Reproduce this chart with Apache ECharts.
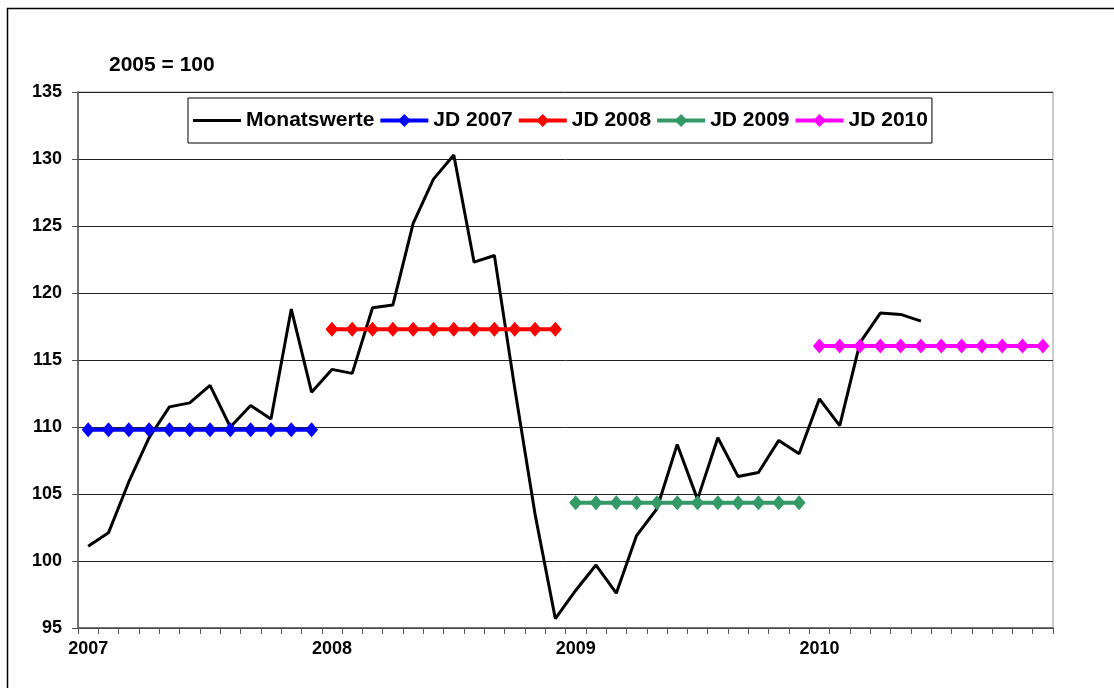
<!DOCTYPE html>
<html>
<head>
<meta charset="utf-8">
<script src="https://cdn.jsdelivr.net/npm/echarts@6/dist/echarts.min.js"></script>
<style>
html,body{margin:0;padding:0;background:#fff;}
#chart{width:1114px;height:688px;}
</style>
</head>
<body>
<div id="chart"></div>
<script>
// Categories: months Jan 2007 .. Dec 2010
var months = [
 '01.2007','02.2007','03.2007','04.2007','05.2007','06.2007','07.2007','08.2007','09.2007','10.2007','11.2007','12.2007',
 '01.2008','02.2008','03.2008','04.2008','05.2008','06.2008','07.2008','08.2008','09.2008','10.2008','11.2008','12.2008',
 '01.2009','02.2009','03.2009','04.2009','05.2009','06.2009','07.2009','08.2009','09.2009','10.2009','11.2009','12.2009',
 '01.2010','02.2010','03.2010','04.2010','05.2010','06.2010','07.2010','08.2010','09.2010','10.2010','11.2010','12.2010'
];
var yearLabels = ['2007','2008','2009','2010'];
var yTicks = [95,100,105,110,115,120,125,130,135];

// Monthly index values (2005 = 100)
var monatswerte = [
 101.1, 102.1, 105.9, 109.2, 111.5, 111.8, 113.1, 110.0, 111.6, 110.6, 118.8, 112.6,
 114.3, 114.0, 118.9, 119.1, 125.2, 128.5, 130.3, 122.3, 122.8, 112.9, 103.5, 95.7,
 97.8, 99.7, 97.6, 101.9, 103.9, 108.7, 104.6, 109.2, 106.3, 106.6, 109.0, 108.0,
 112.1, 110.1, 116.3, 118.5, 118.4, 117.9, null, null, null, null, null, null
];

// Annual averages (Jahresdurchschnitt), one value per month of each year
var jd2007 = [109.8,109.8,109.8,109.8,109.8,109.8,109.8,109.8,109.8,109.8,109.8,109.8];
var jd2008 = [117.3,117.3,117.3,117.3,117.3,117.3,117.3,117.3,117.3,117.3,117.3,117.3];
var jd2009 = [104.35,104.35,104.35,104.35,104.35,104.35,104.35,104.35,104.35,104.35,104.35,104.35];
var jd2010 = [116.05,116.05,116.05,116.05,116.05,116.05,116.05,116.05,116.05,116.05,116.05,116.05];

function place(values, start) {
  var out = [];
  for (var i = 0; i < months.length; i++) {
    var k = i - start;
    out.push(k >= 0 && k < values.length ? values[k] : null);
  }
  return out;
}

var FONT = "'Liberation Sans', Arial, sans-serif";
var chart = echarts.init(document.getElementById('chart'));

function jdSeries(name, color, values, start) {
  return {
    name: name,
    type: 'line',
    data: place(values, start),
    symbol: 'diamond',
    symbolSize: [13, 15],
    showSymbol: true,
    connectNulls: false,
    lineStyle: { color: color, width: 4 },
    itemStyle: { color: color },
    emphasis: { disabled: true },
    animation: false
  };
}

chart.setOption({
  backgroundColor: '#fff',
  animation: false,
  title: {
    text: '2005 = 100',
    left: 104, top: 50,
    textStyle: { fontFamily: FONT, fontSize: 21, fontWeight: 'bold', color: '#000' }
  },
  legend: {
    left: 188, top: 98,
    orient: 'horizontal',
    backgroundColor: '#fff',
    borderColor: '#000',
    borderWidth: 1,
    padding: [12, 4, 12, 5],
    itemGap: 4,
    itemWidth: 48,
    itemHeight: 16,
    lineStyle: { width: 4 },
    textStyle: { fontFamily: FONT, fontSize: 21, fontWeight: 'bold', color: '#000' },
    data: [
      { name: 'Monatswerte', icon: 'path://M0,0 L48,0 L48,3 L0,3 Z', itemStyle: { color: '#000' } },
      'JD 2007', 'JD 2008', 'JD 2009', 'JD 2010'
    ]
  },
  grid: {
    left: 78, right: 61, top: 92, bottom: 60,
    show: true, borderColor: '#999', borderWidth: 1, backgroundColor: 'transparent'
  },
  xAxis: {
    type: 'category',
    data: months,
    boundaryGap: true,
    axisLine: { show: true, lineStyle: { color: '#555', width: 1.5 } },
    axisTick: { show: true, interval: 0, length: 6, lineStyle: { color: '#555', width: 1 } },
    axisLabel: {
      interval: 0,
      margin: 12,
      fontFamily: FONT, fontSize: 18, fontWeight: 'bold', color: '#000',
      formatter: function (v, i) {
        return (i % 12 === 0) ? yearLabels[i / 12] : '';
      }
    },
    splitLine: { show: false }
  },
  yAxis: {
    type: 'value',
    min: yTicks[0], max: yTicks[yTicks.length - 1], interval: 5,
    axisLine: { show: true, lineStyle: { color: '#555', width: 1.5 } },
    axisTick: { show: true, length: 6, lineStyle: { color: '#555', width: 1 } },
    axisLabel: { margin: 16, fontFamily: FONT, fontSize: 18, fontWeight: 'bold', color: '#000' },
    splitLine: { show: true, lineStyle: { color: '#222', width: 1 } }
  },
  graphic: [{
    type: 'rect',
    silent: true,
    z: -10,
    shape: { x: 7.5, y: 8.5, width: 1200, height: 800 },
    style: { fill: 'none', stroke: '#000', lineWidth: 1.5 }
  }],
  series: [
    {
      name: 'Monatswerte',
      type: 'line',
      data: monatswerte,
      symbol: 'none',
      showSymbol: false,
      lineStyle: { color: '#000', width: 3 },
      itemStyle: { color: '#000' },
      emphasis: { disabled: true },
      animation: false
    },
    jdSeries('JD 2007', '#0000FF', jd2007, 0),
    jdSeries('JD 2008', '#FF0000', jd2008, 12),
    jdSeries('JD 2009', '#339966', jd2009, 24),
    jdSeries('JD 2010', '#FF00FF', jd2010, 36)
  ]
});
</script>
</body>
</html>
